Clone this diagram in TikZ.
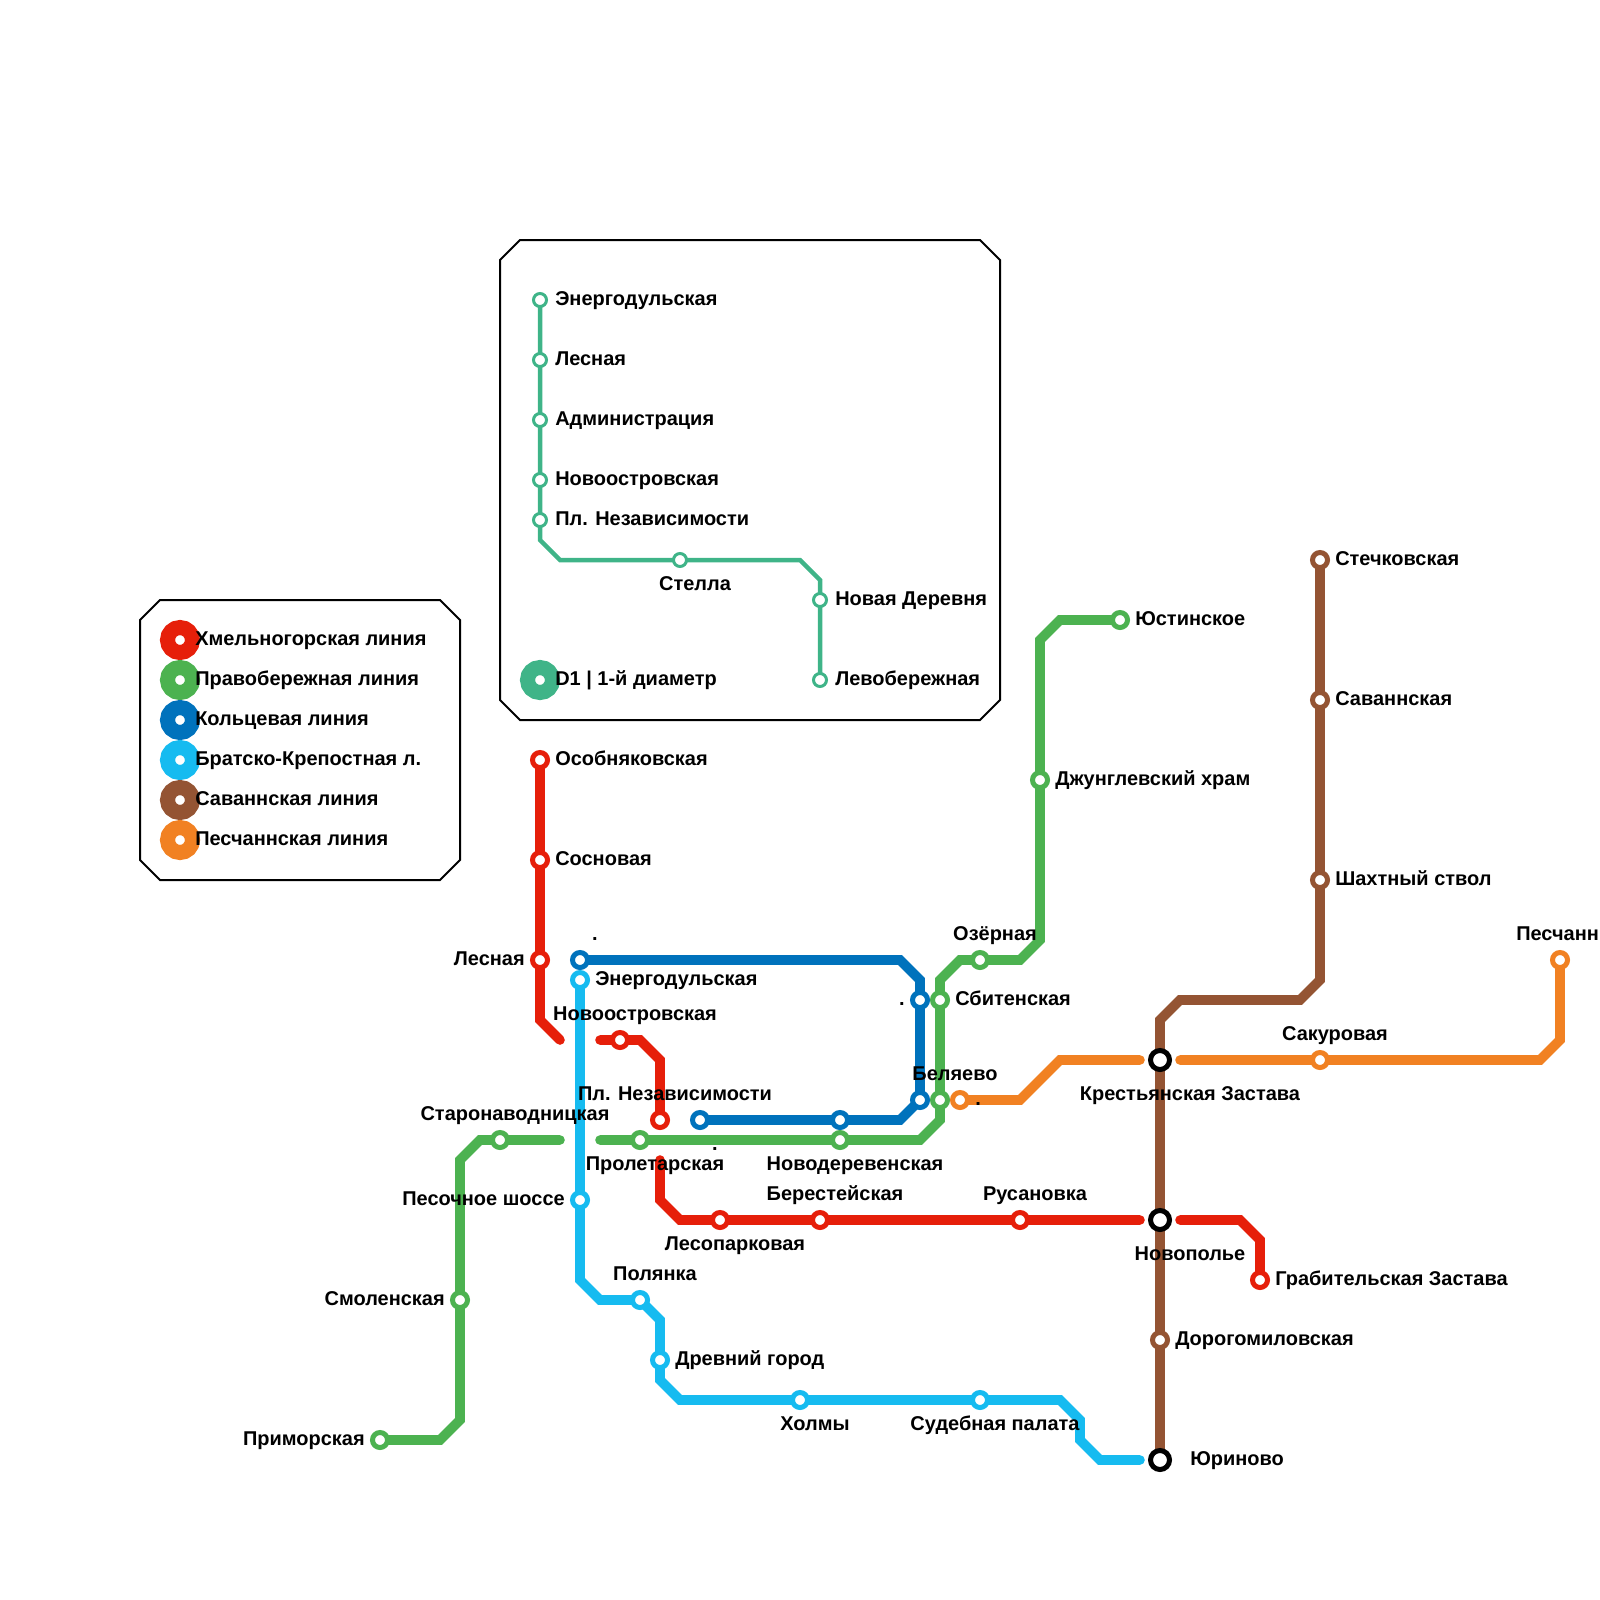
\documentclass[tikz,border=0pt]{standalone}
\usepackage{fontspec}
\setmainfont{Liberation Sans}
\usetikzlibrary{backgrounds}
\definecolor{redl}{HTML}{E61F0A}
\definecolor{greenl}{HTML}{4CB250}
\definecolor{bluel}{HTML}{0072BC}
\definecolor{cyanl}{HTML}{16BBF0}
\definecolor{brownl}{HTML}{945433}
\definecolor{orangel}{HTML}{F18122}
\definecolor{teall}{HTML}{3FB488}
\tikzset{
	line/.style={draw=#1, line width=0.24cm, line cap=round, line join=miter},
	thinline/.style={draw=#1, line width=0.1125cm, line cap=round, line join=miter},
	st/.style={circle, draw=#1, fill=white, line width=0.125cm, minimum size=0.375cm, inner sep=0},
	smallst/.style={circle, draw=#1, fill=white, line width=0.075cm, minimum size=0.325cm, inner sep=0},
	hub/.style={circle, draw=black, fill=white, line width=0.125cm, minimum size=0.475cm, inner sep=0},
	legdot/.style={circle, draw=#1, fill=white, line width=0.375cm, minimum size=0.625cm, inner sep=0},
	lbl/.style={inner sep=0, yshift=-0.025cm, font=\fontsize{14.2}{17}\bfseries\selectfont},
	lr/.style={lbl, anchor=base west},
	ll/.style={lbl, anchor=base east},
	lc/.style={lbl, anchor=base},
	frame/.style={draw=black, line width=0.05cm}
}
\begin{document}
\begin{tikzpicture}[x=0.025cm, y=-0.025cm]
	\useasboundingbox (0,0) rectangle (1600,1600);

	\draw [frame] (160,600) -- (440,600) -- (460,620) -- (460,860) -- (440,880) -- (160,880) -- (140,860) -- (140,620) -- cycle;
	\draw [frame] (520,240) -- (980,240) -- (1000,260) -- (1000,700) -- (980,720) -- (520,720) -- (500,700) -- (500,260) -- cycle;

	\node [legdot=redl] (legred) at (180,640) {};
	\node [legdot=greenl] (leggreen) at (180,680) {};
	\node [legdot=bluel] (legblue) at (180,720) {};
	\node [legdot=cyanl] (legcyan) at (180,760) {};
	\node [legdot=brownl] (legbrown) at (180,800) {};
	\node [legdot=orangel] (legorange) at (180,840) {};
	\node [legdot=teall] (legteal) at (540,680) {};
	\node [lr] (tlegred) at (195,644) {Хмельногорская линия};
	\node [lr] (tleggreen) at (195,684) {Правобережная линия};
	\node [lr] (tlegblue) at (195,724) {Кольцевая линия};
	\node [lr] (tlegcyan) at (195,764) {Братско-Крепостная л.};
	\node [lr] (tlegbrown) at (195,804) {Саваннская линия};
	\node [lr] (tlegorange) at (195,844) {Песчаннская линия};
	\node [lr] (tlegteal) at (555,684) {D1 | 1-й диаметр};

	\node [smallst=teall] (denergo) at (540,300) {};
	\node [smallst=teall] (dlesnaya) at (540,360) {};
	\node [smallst=teall] (dadmin) at (540,420) {};
	\node [smallst=teall] (dnovoostr) at (540,480) {};
	\node [smallst=teall] (dnezav) at (540,520) {};
	\node [smallst=teall] (dstella) at (680,560) {};
	\node [smallst=teall] (dnovder) at (820,600) {};
	\node [smallst=teall] (dlevo) at (820,680) {};
	\coordinate (d1) at (540,540);
	\coordinate (d2) at (560,560);
	\coordinate (d3) at (800,560);
	\coordinate (d4) at (820,580);
	\node [lr] (tdenergo) at (555,304) {Энергодульская};
	\node [lr] (tdlesnaya) at (555,364) {Лесная};
	\node [lr] (tdadmin) at (555,424) {Администрация};
	\node [lr] (tdnovoostr) at (555,484) {Новоостровская};
	\node [lr] (tdnezav) at (555,524) {Пл. Независимости};
	\node [lc] (tdstella) at (695,589) {Стелла};
	\node [lr] (tdnovder) at (835,604) {Новая Деревня};
	\node [lr] (tdlevo) at (835,684) {Левобережная};

	\node [st=redl] (osob) at (540,760) {};
	\node [st=redl] (sosn) at (540,860) {};
	\node [st=redl] (lesn) at (540,960) {};
	\node [st=redl] (novoostr) at (620,1040) {};
	\node [st=redl] (nezav) at (660,1120) {};
	\node [st=redl] (lesopark) at (720,1220) {};
	\node [st=redl] (berest) at (820,1220) {};
	\node [st=redl] (rusan) at (1020,1220) {};
	\node [st=redl] (grabit) at (1260,1280) {};
	\coordinate (r1) at (540,1020);
	\coordinate (r2) at (560,1040);
	\coordinate (r3) at (600,1040);
	\coordinate (r4) at (640,1040);
	\coordinate (r5) at (660,1060);
	\coordinate (r6) at (660,1160);
	\coordinate (r7) at (660,1200);
	\coordinate (r8) at (680,1220);
	\coordinate (r9) at (1140,1220);
	\coordinate (r10) at (1180,1220);
	\coordinate (r11) at (1240,1220);
	\coordinate (r12) at (1260,1240);
	\node [lr] (tosob) at (555,764) {Особняковская};
	\node [lr] (tsosn) at (555,864) {Сосновая};
	\node [ll] (tlesn) at (525,964) {Лесная};
	\node [lc] (tnovoostr) at (635,1019) {Новоостровская};
	\node [lc] (tnezav) at (675,1099) {Пл. Независимости};
	\node [lc] (tlesopark) at (735,1249) {Лесопарковая};
	\node [lc] (tberest) at (835,1199) {Берестейская};
	\node [lc] (trusan) at (1035,1199) {Русановка};
	\node [lr] (tgrabit) at (1275,1284) {Грабительская Застава};

	\node [st=greenl] (primor) at (380,1440) {};
	\node [st=greenl] (smol) at (460,1300) {};
	\node [st=greenl] (staro) at (500,1140) {};
	\node [st=greenl] (prolet) at (640,1140) {};
	\node [st=greenl] (novoder) at (840,1140) {};
	\node [st=greenl] (belyg) at (940,1100) {};
	\node [st=greenl] (sbit) at (940,1000) {};
	\node [st=greenl] (ozer) at (980,960) {};
	\node [st=greenl] (dzhung) at (1040,780) {};
	\node [st=greenl] (yust) at (1120,620) {};
	\coordinate (g1) at (440,1440);
	\coordinate (g2) at (460,1420);
	\coordinate (g3) at (460,1160);
	\coordinate (g4) at (480,1140);
	\coordinate (g5) at (560,1140);
	\coordinate (g6) at (600,1140);
	\coordinate (g7) at (920,1140);
	\coordinate (g8) at (940,1120);
	\coordinate (g9) at (940,980);
	\coordinate (g10) at (960,960);
	\coordinate (g11) at (1020,960);
	\coordinate (g12) at (1040,940);
	\coordinate (g13) at (1040,640);
	\coordinate (g14) at (1060,620);
	\node [ll] (tprimor) at (365,1444) {Приморская};
	\node [ll] (tsmol) at (445,1304) {Смоленская};
	\node [lc] (tstaro) at (515,1119) {Старонаводницкая};
	\node [lc] (tprolet) at (655,1169) {Пролетарская};
	\node [lc] (tnovoder) at (855,1169) {Новодеревенская};
	\node [lc] (tbelyg) at (955,1079) {Беляево};
	\node [lr] (tsbit) at (955,1004) {Сбитенская};
	\node [lc] (tozer) at (995,939) {Озёрная};
	\node [lr] (tdzhung) at (1055,784) {Джунглевский храм};
	\node [lr] (tyust) at (1135,624) {Юстинское};

	\node [st=bluel] (bstart) at (580,960) {};
	\node [st=bluel] (bsbit) at (920,1000) {};
	\node [st=bluel] (bbely) at (920,1100) {};
	\node [st=bluel] (bnovoder) at (840,1120) {};
	\node [st=bluel] (bend) at (700,1120) {};
	\coordinate (b1) at (900,960);
	\coordinate (b2) at (920,980);
	\coordinate (b3) at (900,1120);
	\node [lc] (tbstart) at (595,939) {.};
	\node [ll] (tbsbit) at (905,1004) {.};
	\node [lc] (tbend) at (715,1149) {.};

	\node [st=cyanl] (energo) at (580,980) {};
	\node [st=cyanl] (pesoch) at (580,1200) {};
	\node [st=cyanl] (polyan) at (640,1300) {};
	\node [st=cyanl] (drevn) at (660,1360) {};
	\node [st=cyanl] (holmy) at (800,1400) {};
	\node [st=cyanl] (sudeb) at (980,1400) {};
	\coordinate (c1) at (580,1280);
	\coordinate (c2) at (600,1300);
	\coordinate (c3) at (660,1320);
	\coordinate (c4) at (660,1380);
	\coordinate (c5) at (680,1400);
	\coordinate (c6) at (1060,1400);
	\coordinate (c7) at (1080,1420);
	\coordinate (c8) at (1080,1440);
	\coordinate (c9) at (1100,1460);
	\coordinate (c10) at (1140,1460);
	\node [lr] (tenergo) at (595,984) {Энергодульская};
	\node [ll] (tpesoch) at (565,1204) {Песочное шоссе};
	\node [lc] (tpolyan) at (655,1279) {Полянка};
	\node [lr] (tdrevn) at (675,1364) {Древний город};
	\node [lc] (tholmy) at (815,1429) {Холмы};
	\node [lc] (tsudeb) at (995,1429) {Судебная палата};

	\node [st=brownl] (stech) at (1320,560) {};
	\node [st=brownl] (savan) at (1320,700) {};
	\node [st=brownl] (shakht) at (1320,880) {};
	\node [st=brownl] (dorog) at (1160,1340) {};
	\node [hub] (kresty) at (1160,1060) {};
	\node [hub] (novop) at (1160,1220) {};
	\node [hub] (yurin) at (1160,1460) {};
	\coordinate (w1) at (1320,980);
	\coordinate (w2) at (1300,1000);
	\coordinate (w3) at (1180,1000);
	\coordinate (w4) at (1160,1020);
	\node [lr] (tstech) at (1335,564) {Стечковская};
	\node [lr] (tsavan) at (1335,704) {Саваннская};
	\node [lr] (tshakht) at (1335,884) {Шахтный ствол};
	\node [lr] (tdorog) at (1175,1344) {Дорогомиловская};
	\node [lc] (tkresty) at (1190,1099) {Крестьянская Застава};
	\node [lc] (tnovop) at (1190,1259) {Новополье};
	\node [lr] (tyurin) at (1190,1464) {Юриново};

	\node [st=orangel] (obely) at (960,1100) {};
	\node [st=orangel] (sakur) at (1320,1060) {};
	\node [st=orangel] (pesch) at (1560,960) {};
	\coordinate (o1) at (1020,1100);
	\coordinate (o2) at (1060,1060);
	\coordinate (o3) at (1140,1060);
	\coordinate (o4) at (1180,1060);
	\coordinate (o5) at (1540,1060);
	\coordinate (o6) at (1560,1040);
	\node [lr] (tobely) at (975,1104) {.};
	\node [lc] (tsakur) at (1335,1039) {Сакуровая};
	\node [lr] (tpesch) at (1516,939) {Песчанн};

	\begin{scope}[on background layer]
		\draw [thinline=teall] (denergo.center) -- (dlesnaya.center) -- (dadmin.center) -- (dnovoostr.center) -- (dnezav.center) -- (d1) -- (d2) -- (dstella.center) -- (d3) -- (d4) -- (dnovder.center) -- (dlevo.center);
		\draw [line=brownl] (stech.center) -- (savan.center) -- (shakht.center) -- (w1) -- (w2) -- (w3) -- (w4) -- (kresty.center) -- (novop.center) -- (dorog.center) -- (yurin.center);
		\draw [line=cyanl] (energo.center) -- (pesoch.center) -- (c1) -- (c2) -- (polyan.center) -- (c3) -- (drevn.center) -- (c4) -- (c5) -- (holmy.center) -- (sudeb.center) -- (c6) -- (c7) -- (c8) -- (c9) -- (c10);
		\draw [line=redl] (osob.center) -- (sosn.center) -- (lesn.center) -- (r1) -- (r2);
		\draw [line=redl] (r3) -- (novoostr.center) -- (r4) -- (r5) -- (nezav.center);
		\draw [line=redl] (r6) -- (r7) -- (r8) -- (lesopark.center) -- (berest.center) -- (rusan.center) -- (r9);
		\draw [line=redl] (r10) -- (r11) -- (r12) -- (grabit.center);
		\draw [line=greenl] (primor.center) -- (g1) -- (g2) -- (smol.center) -- (g3) -- (g4) -- (staro.center) -- (g5);
		\draw [line=bluel] (bstart.center) -- (b1) -- (b2) -- (bsbit.center) -- (bbely.center) -- (b3) -- (bnovoder.center) -- (bend.center);
		\draw [line=greenl] (g6) -- (prolet.center) -- (novoder.center) -- (g7) -- (g8) -- (belyg.center) -- (sbit.center) -- (g9) -- (g10) -- (ozer.center) -- (g11) -- (g12) -- (dzhung.center) -- (g13) -- (g14) -- (yust.center);
		\draw [line=orangel] (obely.center) -- (o1) -- (o2) -- (o3);
		\draw [line=orangel] (o4) -- (sakur.center) -- (o5) -- (o6) -- (pesch.center);
	\end{scope}
\end{tikzpicture}
\end{document}
